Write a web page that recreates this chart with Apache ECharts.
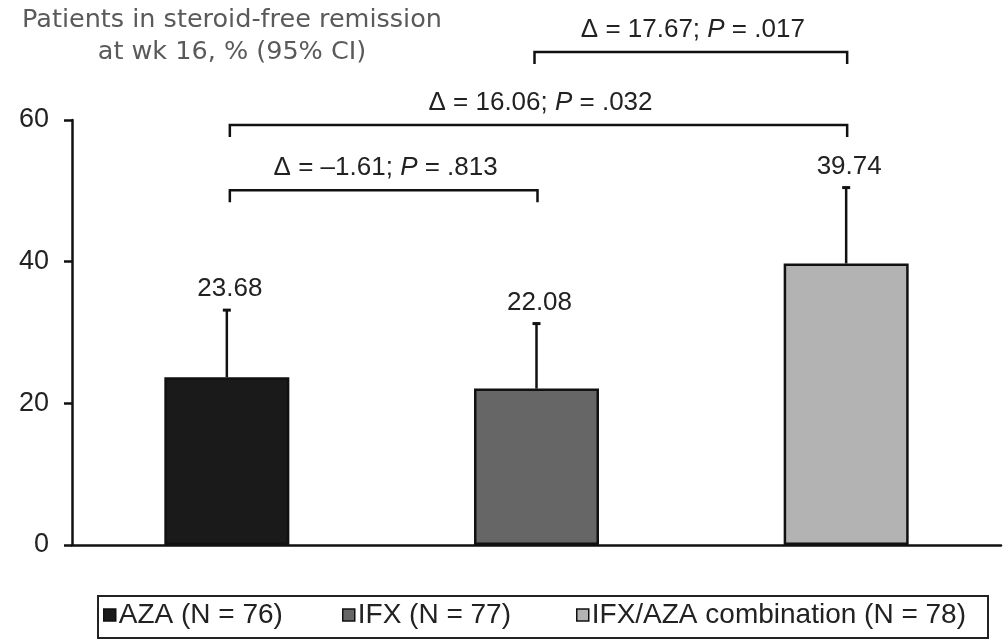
<!DOCTYPE html>
<html><head><meta charset="utf-8">
<script src="https://cdn.jsdelivr.net/npm/echarts@6/dist/echarts.min.js"></script>
<style>html,body{margin:0;padding:0;background:#fff}#c{width:1003px;height:639px}</style>
</head><body><div id="c"></div>
<script>
// ---- data ----
const categories = ['AZA', 'IFX', 'IFX/AZA combination'];
const legendNames = ['AZA (N = 76)', 'IFX (N = 77)', 'IFX/AZA combination (N = 78)'];
const remission = [23.68, 22.08, 39.74];
const ciUpper = [33.3, 31.4, 50.6];
const barColors = ['#1a1a1a', '#666666', '#b3b3b3'];
const yTicks = [0, 20, 40, 60];
// pairwise comparisons
const cmpFrom = [0, 0, 1];
const cmpTo = [1, 2, 2];
const cmpLevel = [50.1, 59.3, 69.6];
const cmpDelta = ['\u20131.61', '16.06', '17.67'];
const cmpP = ['.813', '.032', '.017'];

const FONT = '"Liberation Sans", Arial, sans-serif';
const legendLeft = [103, 342, 576];
const chart = echarts.init(document.getElementById('c'));

const barSeries = legendNames.map((name, i) => ({
  type: 'bar',
  name: name,
  data: categories.map((c, j) => (j === i ? remission[i] : '-')),
  barWidth: 125,
  barGap: '-100%',
  itemStyle: { color: barColors[i], borderColor: '#111', borderWidth: 2.5 },
  z: 2
}));

const errorSeries = {
  type: 'custom',
  name: 'ci',
  clip: false,
  z: 5,
  encode: { x: 0, y: 1 },
  data: remission.map((v, i) => [i, v, ciUpper[i]]),
  renderItem(params, api) {
    const base = api.coord([api.value(0), api.value(1)]);
    const top = api.coord([api.value(0), api.value(2)]);
    return {
      type: 'group',
      children: [
        { type: 'line', shape: { x1: base[0], y1: base[1], x2: top[0], y2: top[1] },
          style: { stroke: '#111', lineWidth: 2.5 } },
        { type: 'line', shape: { x1: top[0] - 4, y1: top[1] + 1, x2: top[0] + 4, y2: top[1] + 1 },
          style: { stroke: '#111', lineWidth: 3 } },
        { type: 'text', x: top[0] + 3, y: top[1] - 20,
          style: { text: api.value(1).toFixed(2), align: 'center', verticalAlign: 'middle',
                   fontSize: 26, fontFamily: FONT, fill: '#222' } }
      ]
    };
  }
};

const bracketSeries = {
  type: 'custom',
  name: 'cmp',
  clip: false,
  z: 5,
  encode: { x: 0, y: 2 },
  data: cmpFrom.map((f, i) => [f, cmpTo[i], cmpLevel[i], i]),
  renderItem(params, api) {
    const k = api.value(3);
    const a = api.coord([api.value(0), api.value(2)]);
    const b = api.coord([api.value(1), api.value(2)]);
    const ax = a[0] + (api.value(0) === 0 ? 3 : -2);
    const bx = b[0] + 1;
    const drop = 12;
    return {
      type: 'group',
      children: [
        { type: 'polyline',
          shape: { points: [[ax, a[1] + drop], [ax, a[1]], [bx, b[1]], [bx, b[1] + drop]] },
          style: { stroke: '#111', lineWidth: 2.5, fill: null } },
        { type: 'text', x: (ax + bx) / 2 + 2, y: a[1] - 22,
          style: {
            text: '{n|\u0394 = ' + cmpDelta[k] + '; }{i|P}{n| = ' + cmpP[k] + '}',
            align: 'center', verticalAlign: 'middle',
            rich: {
              n: { fontSize: 26, fontFamily: FONT, fill: '#222' },
              i: { fontSize: 26, fontFamily: FONT, fontStyle: 'italic', fill: '#222' }
            }
          } }
      ]
    };
  }
};

const legends = legendNames.map((name, i) => ({
  left: legendLeft[i], top: 601,
  padding: 0,
  itemWidth: 12, itemHeight: 12,
  icon: 'rect',
  itemStyle: { borderColor: '#111', borderWidth: 1.5 },
  textStyle: { fontFamily: FONT, fontSize: 28, color: '#222', padding: [0, 0, 0, -2] },
  data: [name]
}));

chart.setOption({
  animation: false,
  backgroundColor: '#fff',
  title: {
    text: 'Patients in steroid-free remission\nat wk 16, % (95% CI)',
    left: 232, top: 4, padding: 0, textAlign: 'center',
    textStyle: { fontFamily: '"DejaVu Sans", Verdana, sans-serif', fontSize: 25.5, fontWeight: 'normal',
                 color: '#5a5a5a', lineHeight: 32 }
  },
  graphic: [{
    type: 'rect', left: 97, top: 595, z: 0,
    shape: { width: 890, height: 42 },
    style: { fill: '#fff', stroke: '#222', lineWidth: 2 }
  }],
  grid: { left: 72, right: 2, top: 120, bottom: 94 },
  legend: legends,
  xAxis: {
    type: 'category',
    data: categories,
    axisLine: { lineStyle: { color: '#111', width: 2.5 } },
    axisTick: { show: false },
    axisLabel: { show: false }
  },
  yAxis: {
    type: 'value',
    min: yTicks[0], max: yTicks[yTicks.length - 1], interval: yTicks[1] - yTicks[0],
    axisLine: { show: true, lineStyle: { color: '#111', width: 2.5 } },
    axisTick: { show: true, length: 8, lineStyle: { color: '#111', width: 2.5 } },
    axisLabel: { fontFamily: FONT, fontSize: 27, color: '#222', margin: 23 },
    splitLine: { show: false }
  },
  series: [...barSeries, errorSeries, bracketSeries]
});
</script>
</body></html>
